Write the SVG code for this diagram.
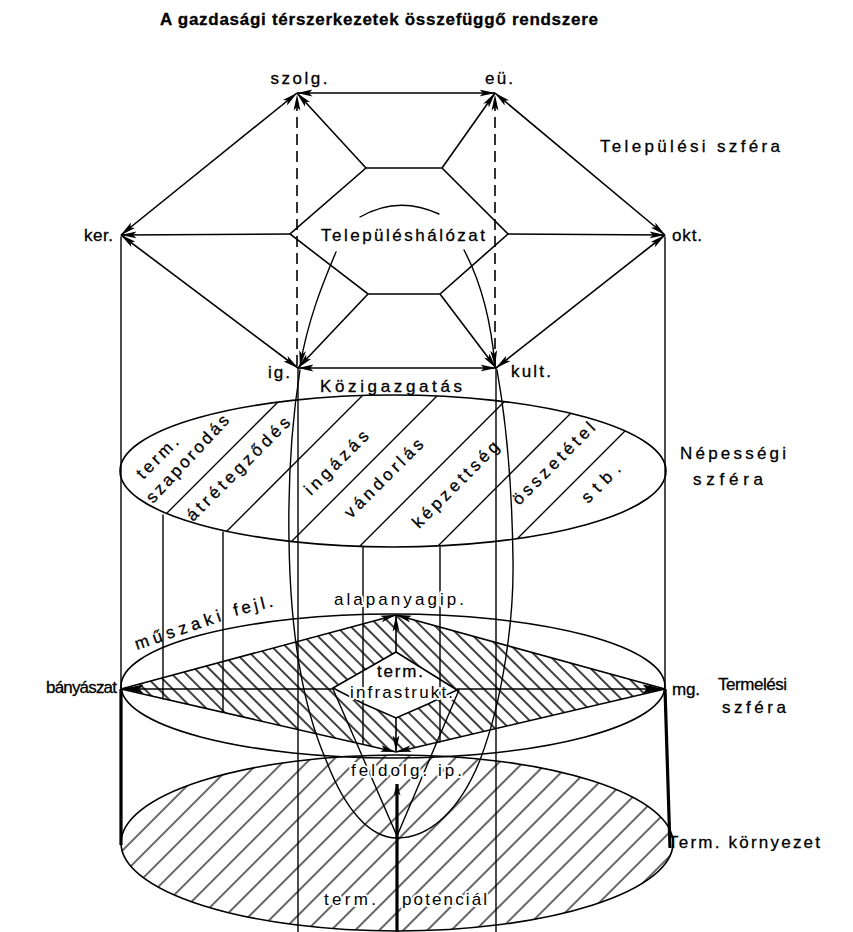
<svg xmlns="http://www.w3.org/2000/svg" width="853" height="932" viewBox="0 0 853 932">
<style>
.ln{stroke:#000;stroke-width:1.4;fill:none;stroke-linecap:round}
.ed{stroke:#000;stroke-width:1.6;fill:none}
.tk{stroke:#000;stroke-width:3.2;fill:none}
.ds{stroke:#000;stroke-width:1.6;fill:none;stroke-dasharray:11 6}
.t{font-family:"Liberation Sans",Arial,sans-serif;font-size:17px;fill:#000;stroke:#000;stroke-width:0.3}
.h{stroke:#fff;stroke-width:4;paint-order:stroke;stroke-linejoin:round}
</style>
<defs>
<marker id="ah" viewBox="0 0 16 8" refX="15.5" refY="4" markerWidth="16" markerHeight="8" markerUnits="userSpaceOnUse" orient="auto-start-reverse"><path d="M0,0.6 L16,4 L0,7.4 L3.5,4 Z" fill="#000"/></marker>
<marker id="ahb" viewBox="0 0 22 10" refX="21.5" refY="5" markerWidth="22" markerHeight="10" markerUnits="userSpaceOnUse" orient="auto-start-reverse"><path d="M0,0.5 L22,5 L0,9.5 L4,5 Z" fill="#000"/></marker>
<marker id="ahs" viewBox="0 0 12 8" refX="11.5" refY="4" markerWidth="12" markerHeight="8" markerUnits="userSpaceOnUse" orient="auto-start-reverse"><path d="M0,0.5 L12,4 L0,7.5 L3,4 Z" fill="#000"/></marker>
<pattern id="hB" width="10" height="10" patternUnits="userSpaceOnUse" patternTransform="rotate(-45)"><line x1="5" y1="-1" x2="5" y2="11" stroke="#000" stroke-width="1.5"/></pattern>
<pattern id="hF" width="17" height="17" patternUnits="userSpaceOnUse" patternTransform="rotate(45)"><line x1="8" y1="-1" x2="8" y2="18" stroke="#000" stroke-width="1.2"/></pattern>
<clipPath id="cN"><ellipse cx="393" cy="471" rx="273" ry="76"/></clipPath>
</defs>
<rect width="853" height="932" fill="#fff"/>

<text class="t" x="160" y="25" font-weight="bold" font-size="16" stroke-width="0" textLength="438">A gazdasági térszerkezetek összefüggő rendszere</text>

<!-- Term. környezet (bottom hatched ellipse) -->
<g id="kornyezet">
<ellipse cx="397" cy="843" rx="276" ry="88" fill="url(#hF)" stroke="#000" stroke-width="1.6"/>
<text class="t" x="668" y="848" textLength="152">Term. környezet</text>
</g>

<!-- Termelési szféra -->
<g id="termelesi">
<ellipse cx="393" cy="686" rx="272" ry="72" fill="none" stroke="#000" stroke-width="1.6"/>
<polygon points="121,689 396,615 665,689 396,752" fill="url(#hB)"/>
<polygon points="396,652 457,690 428,704 396,718 364,704 333,688" fill="#fff" stroke="#000" stroke-width="1.6"/>
<text class="t" x="718" y="690" textLength="69">Termelési</text>
<text class="t" x="722" y="713" textLength="64">szféra</text>
</g>

<!-- Népességi szféra -->
<g id="nepessegi">
<ellipse cx="393" cy="471" rx="273" ry="76" fill="none" stroke="#000" stroke-width="1.6"/>
<g clip-path="url(#cN)" class="ln">
<path d="M80,600 L300,380 M158,600 L378,380 M233,600 L453,380 M306,600 L526,380 M384,600 L604,380 M456,600 L676,380"/>
</g>
<text class="t" x="680" y="459" textLength="106">Népességi</text>
<text class="t" x="693" y="485" textLength="70">szféra</text>
</g>

<!-- Települési szféra: inner hexagon -->
<g id="telepuleshalozat">
<polygon points="366,168 442,168 508,234 440,294 368,294 290,234" fill="none" stroke="#000" stroke-width="1.6"/>
<path class="ln" d="M360,217 Q398,195 439,214"/>
<text class="t" x="321" y="241" textLength="164">Településhálózat</text>
</g>

<g id="connectors">
<!-- outer octagon -->
<line class="ed" x1="297" y1="93" x2="495" y2="93" marker-start="url(#ah)" marker-end="url(#ah)"/>
<line class="ed" x1="297" y1="93" x2="121" y2="235" marker-start="url(#ah)" marker-end="url(#ah)"/>
<line class="ed" x1="495" y1="93" x2="665" y2="235" marker-start="url(#ah)" marker-end="url(#ah)"/>
<line class="ed" x1="121" y1="235" x2="298" y2="368" marker-start="url(#ah)" marker-end="url(#ah)"/>
<line class="ed" x1="665" y1="235" x2="496" y2="368" marker-start="url(#ah)" marker-end="url(#ah)"/>
<line class="ed" x1="298" y1="368" x2="496" y2="368" marker-start="url(#ah)" marker-end="url(#ah)"/>
<!-- spokes -->
<line class="ed" x1="366" y1="168" x2="297" y2="93" marker-end="url(#ah)"/>
<line class="ed" x1="442" y1="168" x2="495" y2="93" marker-end="url(#ah)"/>
<line class="ed" x1="290" y1="234" x2="121" y2="235" marker-end="url(#ah)"/>
<line class="ed" x1="508" y1="234" x2="665" y2="235" marker-end="url(#ah)"/>
<line class="ed" x1="368" y1="294" x2="298" y2="368" marker-end="url(#ah)"/>
<line class="ed" x1="440" y1="294" x2="496" y2="368" marker-end="url(#ah)"/>
<!-- dashed verticals -->
<line class="ds" x1="297" y1="366" x2="297" y2="95" marker-end="url(#ah)"/>
<line class="ds" x1="495" y1="366" x2="495" y2="95" marker-end="url(#ah)"/>
<!-- curved arrows from Településhálózat -->
<path class="ln" d="M336,252 C322,285 308,320 300,366" marker-end="url(#ah)"/>
<path class="ln" d="M464,250 C480,280 491,320 495,366" marker-end="url(#ah)"/>
<!-- U curve -->
<path class="ln" d="M300,370 C292,420 288,480 289,540 C290,620 300,700 326,760 C345,810 370,838 397,838 C430,838 460,810 480,760 C503,700 514,620 513,560 C512,480 506,420 497,370"/>
<!-- cylinder sides -->
<line class="ln" x1="121" y1="237" x2="121" y2="689"/>
<line class="tk" x1="121" y1="689" x2="121" y2="845"/>
<line class="ln" x1="665" y1="237" x2="665" y2="689"/>
<line class="tk" x1="665" y1="689" x2="670" y2="848"/>
<!-- Közigazgatás columns -->
<line class="ln" x1="298" y1="368" x2="298" y2="932"/>
<line class="ln" x1="496" y1="368" x2="496" y2="932"/>
<!-- verticals from népességi to termelési -->
<line class="ln" x1="163" y1="515" x2="163" y2="699"/>
<line class="ln" x1="223" y1="532" x2="223" y2="712"/>
<line class="ln" x1="363" y1="547" x2="363" y2="744"/>
<line class="ln" x1="440" y1="547" x2="440" y2="742"/>
<!-- diamond edges -->
<line class="ed" x1="121" y1="689" x2="396" y2="615" stroke-width="2" marker-end="url(#ah)"/>
<line class="ed" x1="665" y1="689" x2="396" y2="615" stroke-width="2" marker-end="url(#ah)"/>
<line class="ed" x1="121" y1="689" x2="396" y2="752" stroke-width="2" marker-end="url(#ah)"/>
<line class="ed" x1="665" y1="689" x2="396" y2="752" stroke-width="2" marker-end="url(#ah)"/>
<!-- infrastructure arrows -->
<line class="ed" x1="396" y1="652" x2="396" y2="616" stroke-width="2.5" marker-end="url(#ah)"/>
<line class="ed" x1="396" y1="718" x2="396" y2="751" stroke-width="2.5" marker-end="url(#ah)"/>
<line class="ed" x1="333" y1="689" x2="122" y2="689" stroke-width="2" marker-end="url(#ahb)"/>
<line class="ed" x1="457" y1="689" x2="664" y2="689" stroke-width="2" marker-end="url(#ahb)"/>
<!-- potential -->
<line class="ln" x1="397" y1="836" x2="333" y2="689"/>
<line class="ln" x1="397" y1="836" x2="459" y2="690"/>
<line class="tk" x1="397" y1="932" x2="397" y2="784" stroke-width="3.5" marker-end="url(#ahs)"/>
</g>

<g id="nodes">
<g id="n-szolg"><text class="t" x="299" y="84" text-anchor="middle" textLength="57">szolg.</text></g>
<g id="n-eu"><text class="t" x="485" y="84" textLength="28">eü.</text></g>
<g id="n-ker"><text class="t" x="84" y="241" textLength="29">ker.</text></g>
<g id="n-okt"><text class="t" x="672" y="241" textLength="30">okt.</text></g>
<g id="n-ig"><text class="t" x="268" y="378" textLength="22">ig.</text></g>
<g id="n-kult"><text class="t" x="511" y="377" textLength="40">kult.</text></g>
<g id="n-kozig"><text class="t" x="320" y="392" textLength="142">Közigazgatás</text></g>
<g id="n-telep-szfera"><text class="t" x="600" y="152" textLength="180">Települési  szféra</text></g>
<g id="n-nep-labels">
<text class="t" transform="translate(143,480) rotate(-45)" textLength="52">term.</text>
<text class="t" transform="translate(153,504) rotate(-47)" textLength="113">szaporodás</text>
<text class="t" transform="translate(193,522) rotate(-45)" textLength="139">átrétegződés</text>
<text class="t" transform="translate(311,496) rotate(-45)" textLength="83">ingázás</text>
<text class="t" transform="translate(351,519) rotate(-45)" textLength="104">vándorlás</text>
<text class="t" transform="translate(419,529) rotate(-45)" textLength="115">képzettség</text>
<text class="t" transform="translate(519,506) rotate(-45)" textLength="109">összetétel</text>
<text class="t" transform="translate(588,504) rotate(-45)" textLength="48">stb.</text>
</g>
<g id="n-muszaki">
<text class="t" transform="translate(137,650) rotate(-19)" textLength="90">műszaki</text>
<text class="t" transform="translate(235,616) rotate(-14)" textLength="40">fejl.</text>
</g>
<g id="n-banyaszat"><text class="t" x="46" y="693" textLength="71">bányászat</text></g>
<g id="n-mg"><text class="t" x="672" y="695" textLength="28">mg.</text></g>
<g id="n-alapanyag"><text class="t h" x="334" y="605" textLength="130">alapanyagip.</text></g>
<g id="n-infra">
<text class="t" x="377" y="677" textLength="46">term.</text>
<text class="t h" x="350" y="698" textLength="103">infrastrukt.</text>
</g>
<g id="n-feldolg"><text class="t h" x="351" y="776" textLength="111">feldolg. ip.</text></g>
<g id="n-potencial">
<text class="t h" x="324" y="905" textLength="52">term.</text>
<text class="t h" x="402" y="905" textLength="85">potenciál</text>
</g>
</g>
</svg>
